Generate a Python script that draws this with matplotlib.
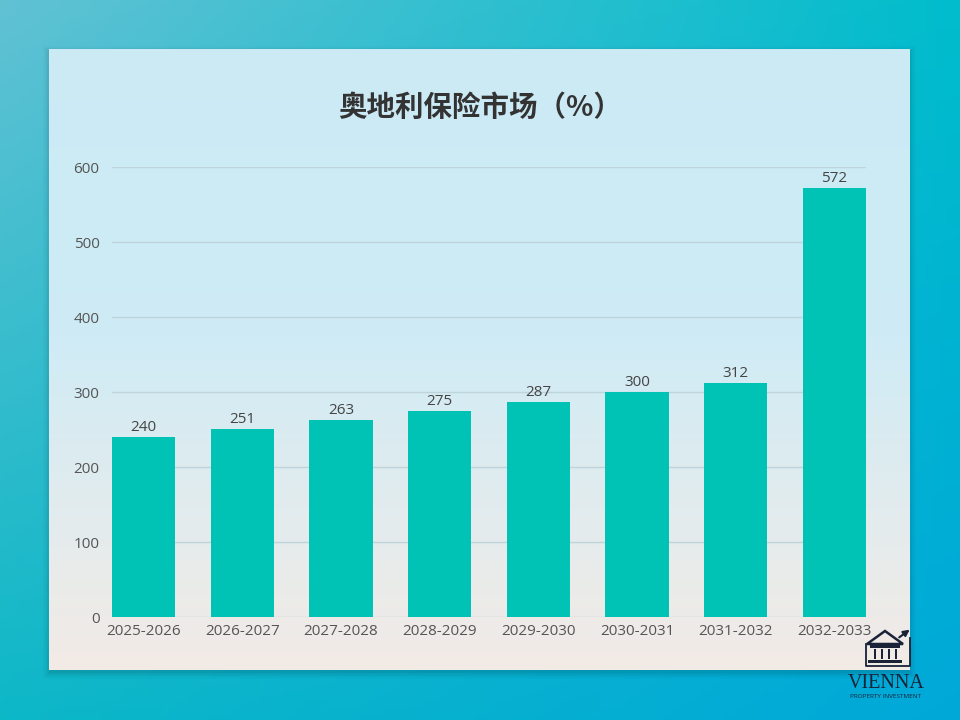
import numpy as np
import matplotlib.pyplot as plt
from matplotlib.patches import Rectangle, Polygon, FancyArrowPatch

# === DATA ===
periods = ["2025-2026", "2026-2027", "2027-2028", "2028-2029",
           "2029-2030", "2030-2031", "2031-2032", "2032-2033"]
values = [240, 251, 263, 275, 287, 300, 312, 572]
yticks = [0, 100, 200, 300, 400, 500, 600]
title = "奥地利保险市场（%）"

plt.rcParams['font.family'] = ['Open Sans', 'Noto Sans CJK SC', 'DejaVu Sans']

fig = plt.figure(figsize=(9.6, 7.2), dpi=100)

# === BACKGROUND (outer teal + inner light panel) ===
bg = fig.add_axes([0, 0, 1, 1])
bg.axis('off')

gx, gy = np.meshgrid(np.linspace(0, 1, 200), np.linspace(0, 1, 150))
c_tl = np.array([0.38, 0.76, 0.83])
c_tr = np.array([0.00, 0.74, 0.80])
c_bl = np.array([0.05, 0.72, 0.78])
c_br = np.array([0.00, 0.66, 0.85])
outer = (c_tl * ((1 - gx) * (1 - gy))[..., None] + c_tr * (gx * (1 - gy))[..., None]
         + c_bl * ((1 - gx) * gy)[..., None] + c_br * (gx * gy)[..., None])
bg.imshow(outer, extent=[0, 960, 720, 0], aspect='auto', zorder=0)

# soft shadow behind the panel
for i, a in enumerate([0.05, 0.04, 0.03, 0.02]):
    bg.add_patch(Rectangle((49 - i * 2, 49 - i * 2 + 3), 861 + i * 4, 621 + i * 4,
                           facecolor='black', alpha=a, edgecolor='none', zorder=1))

p_top = np.array([0.80, 0.92, 0.96])
p_mid = np.array([0.82, 0.93, 0.97])
p_bot = np.array([0.95, 0.92, 0.90])
t = np.linspace(0, 1, 150)[:, None]
w = np.clip((t - 0.45) / 0.55, 0, 1)
col = p_top * (1 - t) + p_mid * t
col = col * (1 - w) + p_bot * w
panel = np.repeat(col[:, None, :], 200, axis=1)
bg.imshow(panel, extent=[49, 910, 670, 49], aspect='auto', zorder=2)
bg.set_xlim(0, 960)
bg.set_ylim(720, 0)

# === CHART ===
ax = fig.add_axes([0.1167, 0.143, 0.7854, 0.625])
ax.patch.set_alpha(0)
x = np.arange(len(periods))
bars = ax.bar(x, values, width=0.64, color='#00c3b5', zorder=3)
for xi, v in zip(x, values):
    ax.text(xi, v + 3, str(v), ha='center', va='bottom', fontsize=11, color='#444444')

ax.set_xlim(-0.32, len(periods) - 0.68)
ax.set_ylim(0, 600)
ax.set_yticks(yticks)
ax.set_xticks(x)
ax.set_xticklabels(periods)
ax.tick_params(axis='both', length=0, labelsize=11, labelcolor='#555555')
ax.tick_params(axis='y', pad=9)
ax.tick_params(axis='x', pad=5)
ax.grid(axis='y', color='#bfd3da', linewidth=1, zorder=0)
for s in ax.spines.values():
    s.set_visible(False)

fig.text(0.5, 0.850, title, ha='center', va='center', fontsize=20.5,
         fontweight='bold', color='#333333',
         family=['Noto Sans CJK SC', 'DejaVu Sans'])

# === LOGO ===
lg = bg
navy = '#1a2238'
lg.add_patch(Polygon([[867, 644], [885, 631], [903, 644]], closed=True,
                     facecolor='none', edgecolor=navy, linewidth=1.8, zorder=5))
lg.add_patch(Rectangle((870, 645), 30, 2.5, facecolor=navy, zorder=5))
for cx in [875, 882, 889, 896]:
    lg.add_patch(Rectangle((cx - 1.4, 649), 2.8, 10, facecolor=navy, zorder=5))
lg.add_patch(Rectangle((868, 660), 34, 2.5, facecolor=navy, zorder=5))
lg.add_artist(FancyArrowPatch((897, 639), (912, 628), arrowstyle='-|>', mutation_scale=9,
                              color=navy, linewidth=1.5, zorder=5))
lg.plot([866, 866, 910, 910], [644, 666, 666, 638], color=navy, linewidth=1.3, zorder=5)
lg.text(886, 683, "VIENNA", ha='center', va='center', fontsize=14.5,
        family='Liberation Serif', color=navy, zorder=5)
lg.text(886, 696, "PROPERTY INVESTMENT", ha='center', va='center', fontsize=4.6,
        color=navy, zorder=5)

plt.savefig("out.png", dpi=100)
